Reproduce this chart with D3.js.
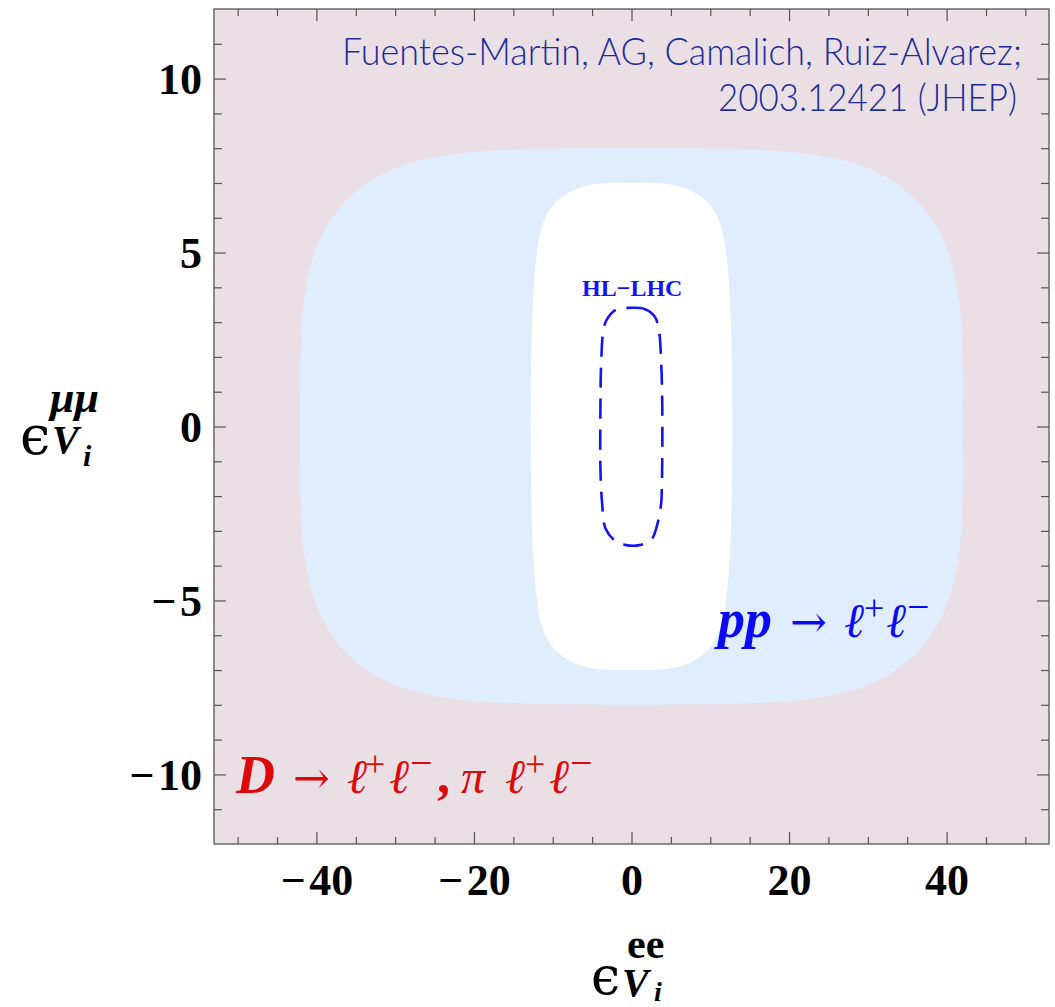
<!DOCTYPE html>
<html>
<head>
<meta charset="utf-8">
<script src="https://cdn.jsdelivr.net/npm/d3@7"></script>
<style>
  html, body { margin: 0; padding: 0; background: #fff; }
  svg { display: block; }
</style>
</head>
<body>
<svg id="chart" width="1055" height="1007"></svg>
<script>
// ---------- data ----------
const xDomain = [-53, 53];
const yDomain = [-12, 12];
const xMajorTicks = [-40, -20, 0, 20, 40];
const xMinorTicks = [-50, -45, -35, -30, -25, -15, -10, -5, 5, 10, 15, 25, 30, 35, 45, 50];
const yMajorTicks = [-10, -5, 0, 5, 10];
const yMinorTicks = [-11, -9, -8, -7, -6, -4, -3, -2, -1, 1, 2, 3, 4, 6, 7, 8, 9, 11];

// pp -> l+l- allowed region (light blue), boundary points
const ppRegion = [
  [42.1,0],[42.05,1.2],[41.95,2.5],[41.75,3.3],[41.3,4.0],[40.7,4.65],[39.7,5.3],[38.4,5.86],[36.8,6.35],[35,6.75],[33,7.08],[30.5,7.38],[27.5,7.62],[23.5,7.8],[18.4,7.92],[12,7.97],[0,8.0],
  [-12,7.97],[-18.4,7.92],[-23.5,7.8],[-27.5,7.62],[-30.5,7.38],[-33,7.08],[-35,6.75],[-36.8,6.35],[-38.4,5.86],[-39.7,5.3],[-40.7,4.65],[-41.3,4.0],[-41.75,3.3],[-41.95,2.5],[-42.05,1.2],[-42.1,0],
  [-42.05,-1.2],[-41.95,-2.5],[-41.75,-3.3],[-41.3,-4.0],[-40.7,-4.65],[-39.7,-5.3],[-38.4,-5.86],[-36.8,-6.35],[-35,-6.75],[-33,-7.08],[-30.5,-7.38],[-27.5,-7.62],[-23.5,-7.8],[-18.4,-7.92],[-12,-7.97],[0,-8.0],
  [12,-7.97],[18.4,-7.92],[23.5,-7.8],[27.5,-7.62],[30.5,-7.38],[33,-7.08],[35,-6.75],[36.8,-6.35],[38.4,-5.86],[39.7,-5.3],[40.7,-4.65],[41.3,-4.0],[41.75,-3.3],[41.95,-2.5],[42.05,-1.2]
];

// combined allowed region (white)
const combinedRegion = [
  [12.8,0],[12.75,1.6],[12.55,3.4],[12.1,4.8],[11.3,5.8],[10.0,6.35],[8.3,6.68],[6.5,6.87],[4.5,6.97],[2.5,7.0],[0,7.0],
  [-2.5,7.0],[-4.5,6.97],[-6.5,6.87],[-8.3,6.68],[-10.0,6.35],[-11.3,5.8],[-12.1,4.8],[-12.55,3.4],[-12.75,1.6],[-12.8,0],
  [-12.75,-1.6],[-12.55,-3.4],[-12.1,-4.8],[-11.3,-5.8],[-10.0,-6.35],[-8.3,-6.68],[-6.5,-6.87],[-4.5,-6.97],[-2.5,-7.0],[0,-7.0],
  [2.5,-7.0],[4.5,-6.97],[6.5,-6.87],[8.3,-6.68],[10.0,-6.35],[11.3,-5.8],[12.1,-4.8],[12.55,-3.4],[12.75,-1.6]
];

// HL-LHC projection (dashed)
const hllhcRegion = [
  [-0.25,3.41],[1.65,3.38],[2.92,3.17],[3.47,2.78],[3.77,1.82],[3.9,0.67],[3.9,-1.0],[3.85,-1.73],[3.77,-2.2],
  [3.14,-2.93],[2.5,-3.26],[1.0,-3.41],[-0.68,-3.41],[-1.95,-3.31],[-3.3,-2.93],[-3.73,-2.2],[-3.94,-1.25],
  [-3.94,0.67],[-3.85,1.82],[-3.56,2.78],[-3.14,3.07],[-1.95,3.36]
];

const creditLines = ["Fuentes-Martin, AG, Camalich, Ruiz-Alvarez;", "2003.12421  (JHEP)"];

// ---------- layout ----------
const plot = { left: 214, right: 1049, top: 9, bottom: 844 };
const svg = d3.select("#chart");

const x = d3.scaleLinear().domain(xDomain).range([plot.left, plot.right]);
const y = d3.scaleLinear().domain(yDomain).range([plot.bottom, plot.top]);

const colors = {
  pink: "#ebdfe6",
  blue: "#dfedfd",
  white: "#ffffff",
  frame: "#555555",
  dashed: "#1414f0",
  credit: "#1c2c9c",
  red: "#dd0a0a",
  ppText: "#0a0af5"
};

const serif = "'Liberation Serif', 'Times New Roman', Times, 'DejaVu Serif', serif";
const djv = "'DejaVu Serif', serif";

svg.append("clipPath").attr("id", "plotclip")
  .append("rect")
  .attr("x", plot.left).attr("y", plot.top)
  .attr("width", plot.right - plot.left).attr("height", plot.bottom - plot.top);

const g = svg.append("g").attr("clip-path", "url(#plotclip)");

g.append("rect")
  .attr("x", plot.left).attr("y", plot.top)
  .attr("width", plot.right - plot.left).attr("height", plot.bottom - plot.top)
  .attr("fill", colors.pink);

const closedLine = d3.line()
  .x(d => x(d[0])).y(d => y(d[1]))
  .curve(d3.curveCatmullRomClosed.alpha(0.5));

g.append("path").datum(ppRegion).attr("d", closedLine).attr("fill", colors.blue);
g.append("path").datum(combinedRegion).attr("d", closedLine).attr("fill", colors.white);
g.append("path").datum(hllhcRegion).attr("d", closedLine)
  .attr("fill", "none").attr("stroke", colors.dashed)
  .attr("stroke-width", 2.6).attr("stroke-dasharray", "20,11");

// ---------- axes (ticks inward on all sides) ----------
function styleAxis(sel) {
  sel.select(".domain").remove();
  sel.selectAll(".tick line").attr("stroke", colors.frame).attr("stroke-width", 1.2);
}
const fmt = d => (d < 0 ? "\u2212\u200A" + Math.abs(d) : String(d));

svg.append("g").attr("transform", `translate(0,${plot.bottom})`)
  .call(d3.axisBottom(x).tickValues(xMinorTicks).tickSize(-7).tickFormat(""))
  .call(styleAxis);
const bx = svg.append("g").attr("transform", `translate(0,${plot.bottom})`)
  .call(d3.axisBottom(x).tickValues(xMajorTicks).tickSize(-12).tickPadding(0).tickFormat(fmt))
  .call(styleAxis);
bx.selectAll(".tick text")
  .attr("y", 51).attr("dy", 0)
  .attr("fill", "#000")
  .style("font-family", serif).style("font-weight", "bold").style("font-size", "44px");

svg.append("g").attr("transform", `translate(0,${plot.top})`)
  .call(d3.axisTop(x).tickValues(xMinorTicks).tickSize(-7).tickFormat(""))
  .call(styleAxis);
svg.append("g").attr("transform", `translate(0,${plot.top})`)
  .call(d3.axisTop(x).tickValues(xMajorTicks).tickSize(-12).tickFormat(""))
  .call(styleAxis);

svg.append("g").attr("transform", `translate(${plot.left},0)`)
  .call(d3.axisLeft(y).tickValues(yMinorTicks).tickSize(-8).tickFormat(""))
  .call(styleAxis);
const ly = svg.append("g").attr("transform", `translate(${plot.left},0)`)
  .call(d3.axisLeft(y).tickValues(yMajorTicks).tickSize(-12).tickPadding(0).tickFormat(fmt))
  .call(styleAxis);
ly.selectAll(".tick text")
  .attr("x", -12).attr("dy", "0.34em")
  .attr("fill", "#000")
  .style("font-family", serif).style("font-weight", "bold").style("font-size", "44px");

svg.append("g").attr("transform", `translate(${plot.right},0)`)
  .call(d3.axisRight(y).tickValues(yMinorTicks).tickSize(-8).tickFormat(""))
  .call(styleAxis);
svg.append("g").attr("transform", `translate(${plot.right},0)`)
  .call(d3.axisRight(y).tickValues(yMajorTicks).tickSize(-12).tickFormat(""))
  .call(styleAxis);

svg.append("rect")
  .attr("x", plot.left).attr("y", plot.top)
  .attr("width", plot.right - plot.left).attr("height", plot.bottom - plot.top)
  .attr("fill", "none").attr("stroke", colors.frame).attr("stroke-width", 1.3);

// ---------- text annotations ----------
const credit = svg.append("g")
  .style("font-family", "'Lato Light', Lato, 'Open Sans', sans-serif")
  .style("font-weight", 300).style("font-size", "38px").attr("fill", colors.credit);
credit.append("text").attr("x", 342).attr("y", 65)
  .attr("textLength", 680).attr("lengthAdjust", "spacingAndGlyphs").text(creditLines[0]);
credit.append("text").attr("x", 718).attr("y", 111)
  .attr("textLength", 299).attr("lengthAdjust", "spacingAndGlyphs").text(creditLines[1]);

svg.append("text").attr("x", x(0.1)).attr("y", 296)
  .attr("text-anchor", "middle").attr("fill", colors.dashed)
  .style("font-family", serif).style("font-weight", "bold").style("font-size", "24px")
  .text("HL\u2212LHC");

function mathLabel(parent, pieces, color) {
  const t = parent.append("text").attr("fill", color).style("font-family", serif);
  pieces.forEach(p => {
    t.append("tspan")
      .attr("x", p.x).attr("y", p.y)
      .style("font-family", p.font || serif)
      .style("font-size", p.size + "px")
      .style("font-weight", p.bold ? "bold" : "normal")
      .style("font-style", p.italic ? "italic" : "normal")
      .text(p.t);
  });
  return t;
}

// pp -> l+ l-
mathLabel(svg, [
  { t: "pp", x: 718, y: 637, size: 54, bold: true, italic: true },
  { t: "\u2192", x: 790, y: 637, size: 44, font: djv },
  { t: "\u2113", x: 844, y: 637, size: 48, italic: true },
  { t: "+", x: 864, y: 620, size: 36 },
  { t: "\u2113", x: 886, y: 637, size: 48, italic: true },
  { t: "\u2212", x: 907, y: 620, size: 40 }
], colors.ppText);

// D -> l+l-, pi l+l-
mathLabel(svg, [
  { t: "D", x: 236, y: 793, size: 54, bold: true, italic: true },
  { t: "\u2192", x: 293, y: 793, size: 44, font: djv },
  { t: "\u2113", x: 347, y: 793, size: 48, italic: true },
  { t: "+", x: 365, y: 776, size: 36 },
  { t: "\u2113", x: 389, y: 793, size: 48, italic: true },
  { t: "\u2212", x: 410, y: 776, size: 40 },
  { t: ",", x: 437, y: 793, size: 52, bold: true },
  { t: "\u03c0", x: 461, y: 793, size: 48, italic: true },
  { t: "\u2113", x: 505, y: 793, size: 48, italic: true },
  { t: "+", x: 525, y: 776, size: 36 },
  { t: "\u2113", x: 549, y: 793, size: 48, italic: true },
  { t: "\u2212", x: 570, y: 776, size: 40 }
], colors.red);

// axis titles
mathLabel(svg, [
  { t: "\u03f5", x: 20, y: 454, size: 54, font: djv },
  { t: "\u03bc\u03bc", x: 50, y: 412, size: 44, bold: true, italic: true },
  { t: "V", x: 52, y: 453, size: 40, bold: true, italic: true },
  { t: "i", x: 83, y: 466, size: 30, bold: true, italic: true }
], "#000");

mathLabel(svg, [
  { t: "\u03f5", x: 591, y: 994, size: 52, font: djv },
  { t: "ee", x: 627, y: 958, size: 42, bold: true },
  { t: "V", x: 622, y: 996, size: 40, bold: true, italic: true },
  { t: "i", x: 654, y: 1001, size: 28, bold: true, italic: true }
], "#000");
</script>
</body>
</html>
